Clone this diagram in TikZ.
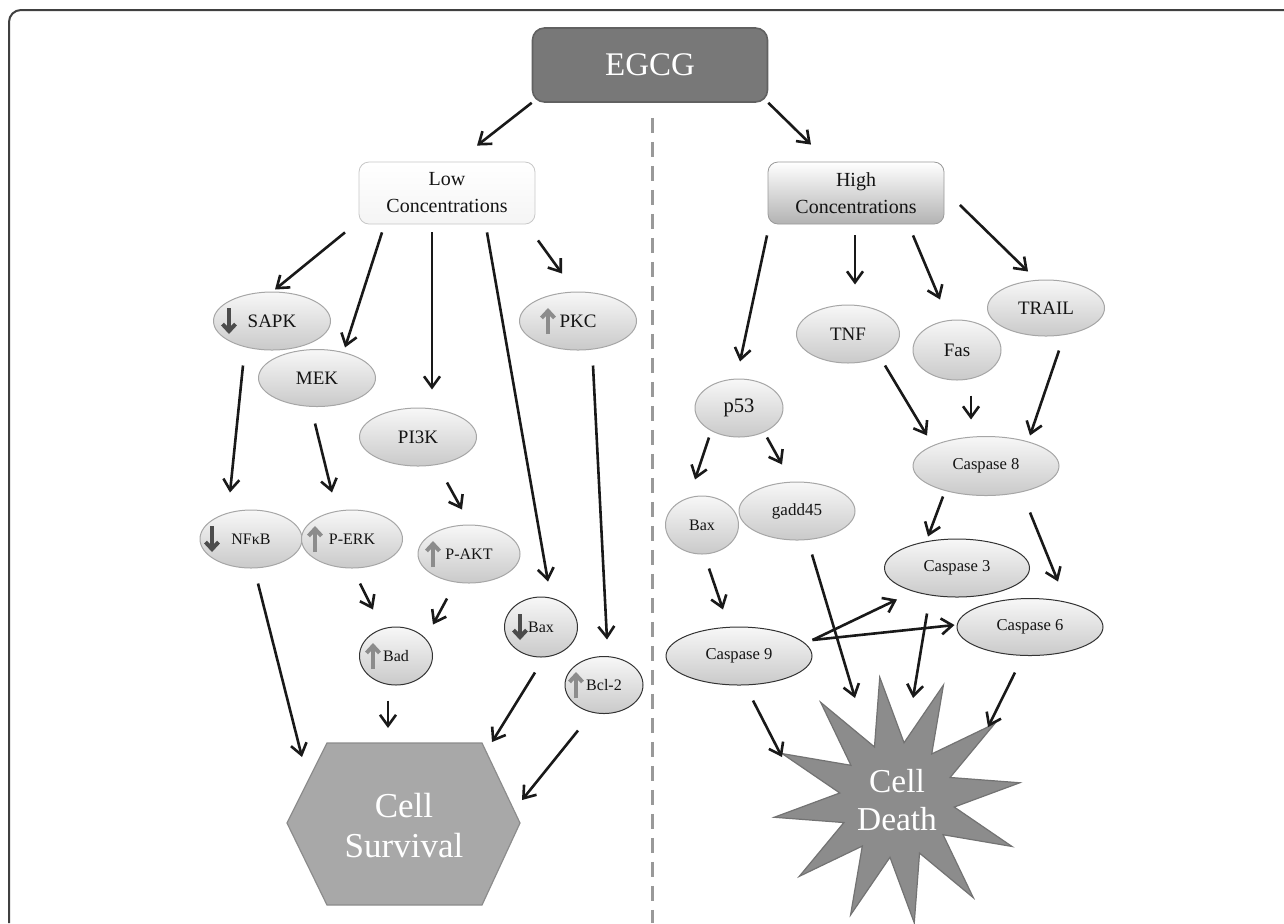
\documentclass[tikz,border=0pt]{standalone}
\usepackage{fontspec}
\setmainfont{Liberation Serif}
\usetikzlibrary{positioning,arrows.meta,shapes.geometric}

\begin{document}
\begin{tikzpicture}[x=0.5pt, y=-0.5pt, font=\fontsize{9.5}{11}\selectfont, text=black!92,
  arr/.style={-{Straight Barb[length=5.5pt,width=8pt]}, line width=1.3pt, black!90},
  dn/.style={-{Straight Barb[length=3.5pt,width=6.5pt]}, line width=2pt, black!70},
  up/.style={-{Straight Barb[length=3.5pt,width=6.5pt]}, line width=2pt, black!45},
  ell/.style 2 args={ellipse, draw=black!35, line width=0.5pt, top color=black!3, bottom color=black!21,
    inner sep=0pt, minimum width=#1*0.5pt, minimum height=#2*0.5pt},
  elld/.style 2 args={ell={#1}{#2}, draw=black!80},
  small/.style={font=\fontsize{8}{9.5}\selectfont},
  casp/.style={font=\fontsize{8.3}{10}\selectfont},
  conc/.style={rectangle, rounded corners=5pt, align=center, inner sep=0pt,
    minimum width=88pt, minimum height=31pt, font=\fontsize{10}{13.5}\selectfont},
  frame/.style={line width=1pt, black!75, rounded corners=6pt},
  divider/.style={line width=1.5pt, black!40, dash pattern=on 7.5pt off 4.5pt}]
\useasboundingbox (0,0) rectangle (1284,923);
\draw[frame] (9,923) -- (9,10) -- (1284,10);
% top of the tree
\node[rectangle, rounded corners=6pt, fill=black!53, draw=black!62, line width=0.8pt, text=white,
  minimum width=117.5pt, minimum height=37pt, font=\fontsize{16.5}{18}\selectfont] (egcg) at (650,65) {EGCG};
\node[conc, draw=black!22, top color=white, bottom color=black!4] (low) at (447,193) {Low\\Concentrations};
\node[conc, draw=black!40, top color=white, bottom color=black!30] (high) at (856,193) {High\\Concentrations};
\draw[divider] ([shift={(2,15)}]egcg.south) -- (652,923);
\draw[arr] (egcg.south west) -- ([shift={(30,-16)}]low.north);
\draw[arr] (egcg.south east) -- ([shift={(-45,-17)}]high.north);
% low concentrations
\node[ell={117}{58}] (sapk) at (272,321) {SAPK};
\node[ell={117}{57}] (mek) at (317,378) {MEK};
\node[ell={117}{58}] (pik) at (418,437) {PI3K};
\node[ell={117}{58}] (pkc) at (578,321) {PKC};
\node[ell={102}{58}, small] (nfkb) at (251,539) {NFκB};
\node[ell={101}{58}, small] (perk) at (352,539) {P-ERK};
\node[ell={102}{58}, small] (pakt) at (469,554) {P-AKT};
\node[elld={73}{58}, small] (bad) at (396,656) {Bad};
\node[elld={73}{60}, small] (baxl) at (541,627) {Bax};
\node[elld={78}{57}, small] (bcl) at (604,685) {Bcl-2};
\draw[dn] ([shift={(-43,-13)}]sapk.center) -- ([shift={(-43,13)}]sapk.center);
\draw[dn] ([shift={(-39,-13)}]nfkb.center) -- ([shift={(-39,13)}]nfkb.center);
\draw[dn] ([shift={(-21,-13)}]baxl.center) -- ([shift={(-21,13)}]baxl.center);
\draw[up] ([shift={(-30,13)}]pkc.center) -- ([shift={(-30,-13)}]pkc.center);
\draw[up] ([shift={(-37,13)}]perk.center) -- ([shift={(-37,-13)}]perk.center);
\draw[up] ([shift={(-36,13)}]pakt.center) -- ([shift={(-36,-13)}]pakt.center);
\draw[up] ([shift={(-23,13)}]bad.center) -- ([shift={(-23,-13)}]bad.center);
\draw[up] ([shift={(-28,13)}]bcl.center) -- ([shift={(-28,-13)}]bcl.center);
\draw[arr] ([shift={(-102,8)}]low.south) -- ([shift={(3,-2)}]sapk.north);
\draw[arr] ([shift={(-65,8)}]low.south) -- ([shift={(28,-1.5)}]mek.north);
\draw[arr] ([shift={(-15,8)}]low.south) -- ([shift={(14,-18)}]pik.north);
\draw[arr] ([shift={(40,8)}]low.south) -- ([shift={(7,-15)}]baxl.north);
\draw[arr] ([shift={(91,16)}]low.south) -- ([shift={(-16,-18)}]pkc.north);
\draw[arr] ([shift={(-29,15)}]sapk.south) -- ([shift={(-21,-17)}]nfkb.north);
\draw[arr] ([shift={(-2,16.5)}]mek.south) -- ([shift={(-20,-17)}]perk.north);
\draw[arr] ([shift={(29,16)}]pik.south) -- ([shift={(-7,-15)}]pakt.north);
\draw[arr] ([shift={(8,15)}]perk.south) -- ([shift={(-23,-17)}]bad.north);
\draw[arr] ([shift={(-22,15)}]pakt.south) -- ([shift={(37,-2)}]bad.north);
\draw[arr] ([shift={(15,15)}]pkc.south) -- ([shift={(3,-16.5)}]bcl.north);
% cell survival
\draw[fill=black!34, draw=black!45, line width=0.6pt]
  (327,743) -- (482,743) -- (520,823) -- (482,905) -- (327,905) -- (287,823) -- cycle;
\node[text=white, align=center, font=\fontsize{17.5}{20}\selectfont] (surv) at (404,826) {Cell\\Survival};
\draw[arr] ([shift={(7,15)}]nfkb.south) -- ([shift={(-102,-69)}]surv.center);
\draw[arr] ([shift={(-8,15)}]bad.south) -- ([shift={(-16,-98)}]surv.center);
\draw[arr] ([shift={(-6,15)}]baxl.south) -- ([shift={(88,-84)}]surv.center);
\draw[arr] ([shift={(-26,16.5)}]bcl.south) -- ([shift={(118,-26)}]surv.center);
% high concentrations
\node[ell={103}{58}] (tnf) at (848,334) {TNF};
\node[ell={88}{60}] (fas) at (957,350) {Fas};
\node[ell={117}{56}] (trail) at (1046,308) {TRAIL};
\node[ell={88}{58}, font=\fontsize{10.3}{12}\selectfont] (p53) at (739,408) {p53};
\node[ell={73}{58}, small] (baxr) at (702,525) {Bax};
\node[ell={116}{58}, font=\fontsize{8.5}{10}\selectfont] (gadd) at (797,511) {gadd45};
\node[ell={146}{59}, casp] (casp8) at (986,466) {Caspase 8};
\node[elld={145}{58}, casp] (casp3) at (957,568) {Caspase 3};
\node[elld={146}{57}, casp] (casp6) at (1030,627) {Caspase 6};
\node[elld={146}{58}, casp] (casp9) at (739,656) {Caspase 9};
\draw[arr] ([shift={(-89,11)}]high.south) -- ([shift={(1,-17)}]p53.north);
\draw[arr] ([shift={(-1,11)}]high.south) -- ([shift={(7,-20)}]tnf.north);
\draw[arr] ([shift={(57,11)}]high.south) -- ([shift={(-17,-20)}]fas.north);
\draw[arr] ([shift={(15.5,12)}]high.east) -- ([shift={(-18,-8)}]trail.north);
\draw[arr] ([shift={(37,2)}]tnf.south) -- ([shift={(-59,-0.5)}]casp8.north);
\draw[arr] ([shift={(14,15)}]fas.south) -- ([shift={(-15,-16.5)}]casp8.north);
\draw[arr] ([shift={(13,14)}]trail.south) -- ([shift={(44,-0.5)}]casp8.north);
\draw[arr] ([shift={(-30,0)}]p53.south) -- ([shift={(-7,-16)}]baxr.north);
\draw[arr] ([shift={(28,0)}]p53.south) -- ([shift={(-15,-17)}]gadd.north);
\draw[arr] ([shift={(7,14)}]baxr.south) -- ([shift={(-16,-17)}]casp9.north);
\draw[arr] ([shift={(-43,0.5)}]casp8.south) -- ([shift={(-29,-2)}]casp3.north);
\draw[arr] ([shift={(44,16.5)}]casp8.south) -- ([shift={(28,-16.5)}]casp6.north);
\draw[arr] ([shift={(0,-16)}]casp9.east) -- ([shift={(-60,2)}]casp3.south);
\draw[arr] ([shift={(0,-16)}]casp9.east) -- ([shift={(-2,-2)}]casp6.west);
% cell death
\node[star, star points=12, star point ratio=2.15, minimum size=124pt, inner sep=0pt,
  fill=black!45, draw=black!55, line width=0.6pt, shape border rotate=8, text=white, align=center,
  font=\fontsize{16.7}{19}\selectfont] (death) at (897,800) {Cell\\Death};
\draw[arr] ([shift={(15,14)}]gadd.south) -- ([shift={(-42,-102)}]death.center);
\draw[arr] ([shift={(-30,16)}]casp3.south) -- ([shift={(16,-102)}]death.center);
\draw[arr] ([shift={(14,15)}]casp9.south) -- ([shift={(-115,-43)}]death.center);
\draw[arr] ([shift={(-15,16.5)}]casp6.south) -- ([shift={(91,-73)}]death.center);
\end{tikzpicture}
\end{document}
